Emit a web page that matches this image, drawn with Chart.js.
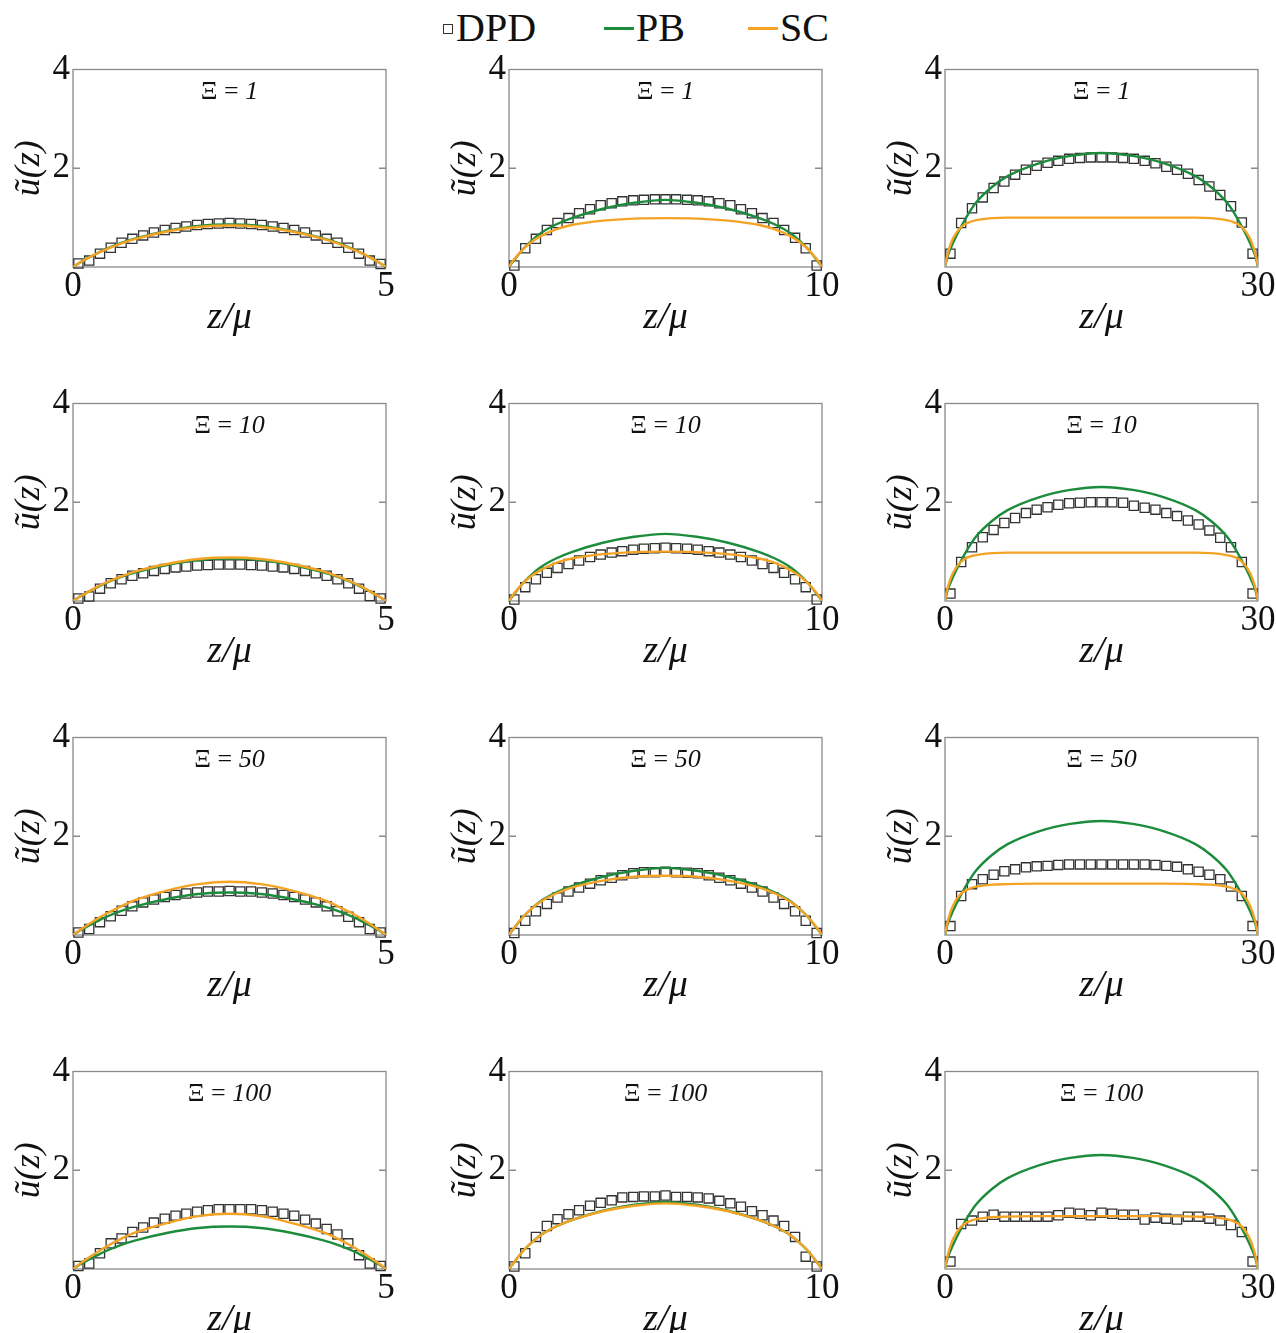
<!DOCTYPE html>
<html>
<head>
<meta charset="utf-8">
<script src="https://cdn.jsdelivr.net/npm/chart.js@4.4.1/dist/chart.umd.min.js"></script>
<style>
  body { margin: 0; background: #fff; width: 1276px; height: 1333px; overflow: hidden; position: relative; font-family: "Liberation Serif", serif; }
  canvas { position: absolute; }
  .lg { position: absolute; top: 8px; font-size: 40px; line-height: 40px; color: #111; }
  .sq { position: absolute; top: 24px; left: 443px; width: 8px; height: 8px; border: 1px solid #333; }
  .ln { position: absolute; top: 27px; width: 30px; height: 2.5px; }
</style>
</head>
<body>
<div class="sq"></div><div class="lg" style="left:456px">DPD</div>
<div class="ln" style="left:604px;background:#1c8c3c"></div><div class="lg" style="left:636px">PB</div>
<div class="ln" style="left:748px;background:#f4a325"></div><div class="lg" style="left:780px">SC</div>
<script>
// panel parameters
const colLengths = [5, 10, 30];
const xiLabels = ["1", "10", "50", "100"];

// DPD bin centres (z/mu)
const zDpd5 = [0.086, 0.259, 0.431, 0.603, 0.776, 0.948, 1.121, 1.293, 1.466, 1.638, 1.810, 1.983, 2.155, 2.328, 2.5, 2.672, 2.845, 3.017, 3.190, 3.362, 3.534, 3.707, 3.879, 4.052, 4.224, 4.397, 4.569, 4.741, 4.914];
const zDpd10 = [0.17, 0.52, 0.86, 1.21, 1.55, 1.90, 2.24, 2.59, 2.93, 3.28, 3.62, 3.97, 4.31, 4.66, 5.0, 5.34, 5.69, 6.03, 6.38, 6.72, 7.07, 7.41, 7.76, 8.10, 8.45, 8.79, 9.14, 9.48, 9.83];
const zDpd30 = [0.52, 1.55, 2.59, 3.62, 4.66, 5.69, 6.72, 7.76, 8.79, 9.83, 10.86, 11.90, 12.93, 13.97, 15.0, 16.03, 17.07, 18.10, 19.14, 20.17, 21.21, 22.24, 23.28, 24.31, 25.34, 26.38, 27.41, 28.45, 29.48];

// theory curve sample points
const zCurve5 = [0, 0.025, 0.05, 0.125, 0.25, 0.375, 0.5, 0.75, 1, 1.5, 2, 2.5, 3, 3.5, 4, 4.25, 4.5, 4.625, 4.75, 4.875, 4.95, 4.975, 5];
const zCurve10 = [0, 0.05, 0.1, 0.25, 0.5, 0.75, 1, 1.5, 2, 3, 4, 5, 6, 7, 8, 8.5, 9, 9.25, 9.5, 9.75, 9.9, 9.95, 10];
const zCurve30 = [0, 0.15, 0.3, 0.75, 1.5, 2.25, 3, 4.5, 6, 9, 12, 15, 18, 21, 24, 25.5, 27, 27.75, 28.5, 29.25, 29.7, 29.85, 30];

// PB (same for every Xi)
const pb5 = [0, .02, .04, .10, .19, .27, .35, .48, .58, .73, .83, .86, .83, .73, .58, .48, .35, .27, .19, .10, .04, .02, 0];
const pb10 = [0, .043, .085, .21, .40, .55, .68, .86, .99, 1.18, 1.30, 1.36, 1.30, 1.18, .99, .86, .68, .55, .40, .21, .085, .043, 0];
const pb30 = [0, .14, .25, .48, .80, 1.08, 1.31, 1.62, 1.84, 2.10, 2.25, 2.31, 2.25, 2.10, 1.84, 1.62, 1.31, 1.08, .80, .48, .25, .14, 0];

// SC
const sc5_1 = [0, .02, .04, .10, .19, .27, .34, .47, .57, .72, .81, .84, .81, .72, .57, .47, .34, .27, .19, .10, .04, .02, 0];
const sc5_10 = [0, .02, .04, .10, .19, .28, .36, .49, .60, .75, .85, .88, .85, .75, .60, .49, .36, .28, .19, .10, .04, .02, 0];
const sc5_50 = [0, .02, .05, .11, .22, .32, .41, .57, .71, .90, 1.03, 1.08, 1.03, .90, .71, .57, .41, .32, .22, .11, .05, .02, 0];
const sc5_100 = [0, .02, .05, .12, .23, .33, .43, .60, .74, .93, 1.07, 1.12, 1.07, .93, .74, .60, .43, .33, .23, .12, .05, .02, 0];
const sc10_1 = [0, .05, .10, .22, .39, .52, .62, .76, .85, .94, .98, .99, .98, .94, .85, .76, .62, .52, .39, .22, .10, .05, 0];
const sc10_10 = [0, .05, .10, .22, .39, .52, .62, .77, .86, .95, .99, 1.00, .99, .95, .86, .77, .62, .52, .39, .22, .10, .05, 0];
const sc10_50 = [0, .05, .09, .22, .40, .55, .67, .84, .96, 1.10, 1.18, 1.20, 1.18, 1.10, .96, .84, .67, .55, .40, .22, .09, .05, 0];
const sc10_100 = [0, .043, .085, .21, .40, .55, .68, .86, .99, 1.17, 1.28, 1.33, 1.28, 1.17, .99, .86, .68, .55, .40, .21, .085, .043, 0];
const sc30_1 = [0, .17, .30, .57, .80, .90, .95, .99, 1.00, 1.00, 1.00, 1.00, 1.00, 1.00, 1.00, .99, .95, .90, .80, .57, .30, .17, 0];
const sc30_10 = [0, .17, .30, .56, .79, .89, .93, .97, .98, .98, .98, .98, .98, .98, .98, .97, .93, .89, .79, .56, .30, .17, 0];
const sc30_50 = [0, .17, .31, .59, .83, .93, .98, 1.02, 1.03, 1.04, 1.04, 1.04, 1.04, 1.04, 1.03, 1.02, .98, .93, .83, .59, .31, .17, 0];
const sc30_100 = [0, .17, .31, .60, .85, .96, 1.01, 1.05, 1.06, 1.07, 1.07, 1.07, 1.07, 1.07, 1.06, 1.05, 1.01, .96, .85, .60, .31, .17, 0];

// DPD
const dpd5_1 = [0.07, 0.13, 0.27, 0.39, 0.49, 0.57, 0.64, 0.70, 0.75, 0.79, 0.82, 0.85, 0.87, 0.88, 0.89, 0.88, 0.87, 0.85, 0.82, 0.79, 0.75, 0.70, 0.64, 0.57, 0.49, 0.39, 0.27, 0.13, 0.06];
const dpd5_10 = [0.05, 0.09, 0.25, 0.36, 0.44, 0.51, 0.56, 0.61, 0.65, 0.68, 0.70, 0.72, 0.73, 0.74, 0.74, 0.74, 0.73, 0.72, 0.70, 0.68, 0.65, 0.61, 0.56, 0.51, 0.44, 0.36, 0.25, 0.10, 0.05];
const dpd5_50 = [0.05, 0.12, 0.26, 0.38, 0.49, 0.58, 0.66, 0.72, 0.77, 0.81, 0.84, 0.86, 0.88, 0.88, 0.89, 0.88, 0.88, 0.86, 0.84, 0.81, 0.77, 0.72, 0.66, 0.58, 0.48, 0.37, 0.26, 0.12, 0.05];
const dpd5_100 = [0.06, 0.11, 0.32, 0.52, 0.62, 0.75, 0.84, 0.94, 1.02, 1.08, 1.12, 1.16, 1.19, 1.21, 1.21, 1.21, 1.21, 1.19, 1.16, 1.12, 1.08, 1.00, 0.92, 0.81, 0.70, 0.52, 0.28, 0.11, 0.06];
const dpd10_1 = [0.03, 0.38, 0.57, 0.75, 0.89, 0.99, 1.09, 1.17, 1.25, 1.29, 1.33, 1.35, 1.36, 1.37, 1.37, 1.37, 1.36, 1.35, 1.33, 1.29, 1.25, 1.17, 1.09, 0.99, 0.89, 0.75, 0.59, 0.38, 0.03];
const dpd10_10 = [0.03, 0.28, 0.44, 0.57, 0.67, 0.75, 0.82, 0.89, 0.94, 0.98, 1.01, 1.04, 1.06, 1.07, 1.08, 1.07, 1.06, 1.04, 1.01, 0.98, 0.94, 0.89, 0.82, 0.75, 0.67, 0.57, 0.44, 0.28, 0.03];
const dpd10_50 = [0.04, 0.29, 0.48, 0.63, 0.76, 0.88, 0.96, 1.04, 1.11, 1.16, 1.21, 1.25, 1.27, 1.27, 1.28, 1.27, 1.26, 1.25, 1.21, 1.16, 1.11, 1.04, 0.96, 0.88, 0.76, 0.63, 0.48, 0.29, 0.04];
const dpd10_100 = [0.05, 0.32, 0.65, 0.87, 1.01, 1.11, 1.19, 1.28, 1.34, 1.39, 1.45, 1.46, 1.47, 1.47, 1.49, 1.46, 1.46, 1.45, 1.43, 1.38, 1.33, 1.26, 1.17, 1.09, 0.98, 0.87, 0.65, 0.25, 0.05];
const dpd30_1 = [0.27, 0.89, 1.19, 1.41, 1.60, 1.73, 1.87, 1.97, 2.05, 2.11, 2.15, 2.19, 2.21, 2.22, 2.22, 2.22, 2.21, 2.19, 2.15, 2.10, 2.03, 1.97, 1.89, 1.76, 1.63, 1.46, 1.23, 0.90, 0.27];
const dpd30_10 = [0.15, 0.79, 1.09, 1.29, 1.44, 1.58, 1.68, 1.78, 1.85, 1.90, 1.95, 1.98, 1.99, 2.00, 2.00, 2.00, 1.99, 1.93, 1.89, 1.85, 1.78, 1.72, 1.63, 1.55, 1.43, 1.28, 1.09, 0.79, 0.15];
const dpd30_50 = [0.18, 0.79, 1.03, 1.13, 1.22, 1.29, 1.33, 1.37, 1.39, 1.40, 1.42, 1.43, 1.43, 1.43, 1.43, 1.43, 1.43, 1.43, 1.43, 1.42, 1.40, 1.38, 1.33, 1.28, 1.22, 1.13, 0.98, 0.79, 0.18];
const dpd30_100 = [0.15, 0.91, 0.98, 1.06, 1.10, 1.06, 1.06, 1.06, 1.06, 1.06, 1.09, 1.14, 1.12, 1.09, 1.14, 1.12, 1.10, 1.10, 1.00, 1.04, 1.02, 1.00, 1.06, 1.06, 1.02, 0.98, 0.89, 0.75, 0.15];

const zDpd = [zDpd5, zDpd10, zDpd30];
const zCurve = [zCurve5, zCurve10, zCurve30];
const pbCurves = [pb5, pb10, pb30];
const dpdRows = [
  [dpd5_1, dpd10_1, dpd30_1],
  [dpd5_10, dpd10_10, dpd30_10],
  [dpd5_50, dpd10_50, dpd30_50],
  [dpd5_100, dpd10_100, dpd30_100]
];
const scRows = [
  [sc5_1, sc10_1, sc30_1],
  [sc5_10, sc10_10, sc30_10],
  [sc5_50, sc10_50, sc30_50],
  [sc5_100, sc10_100, sc30_100]
];

const GREEN = "#1c8c3c";
const ORANGE = "#f4a325";
const SERIF = "'Liberation Serif', 'Times New Roman', serif";

// where each plot box sits on the page
const plotLeft = [73, 509, 945];
const plotTop = [69, 403, 737, 1071];
const plotW = 313, yAxisW = 61, padTop = 20, padRight = 30, xAxisH = 70, plotH = 198;

const pairs = (xs, ys) => xs.map((x, i) => ({ x: x, y: ys[i] }));

// frame, inner ticks at 2 and the Xi label
const panelDeco = {
  id: "panelDeco",
  beforeDatasetsDraw(chart, args, opts) {
    const { ctx, chartArea: a } = chart;
    const y2 = chart.scales.y.getPixelForValue(2);
    ctx.save();
    ctx.strokeStyle = "#8a8a8a";
    ctx.lineWidth = 1.3;
    ctx.strokeRect(a.left, a.top, a.right - a.left, a.bottom - a.top);
    ctx.beginPath();
    ctx.moveTo(a.left, y2); ctx.lineTo(a.left + 7, y2);
    ctx.moveTo(a.right, y2); ctx.lineTo(a.right - 7, y2);
    ctx.stroke();
    // Ξ = n
    const partA = "\u039E = ";
    ctx.fillStyle = "#111";
    ctx.textBaseline = "middle";
    ctx.font = "26px " + SERIF;
    const wA = ctx.measureText(partA).width;
    ctx.font = "italic 26px " + SERIF;
    const wB = ctx.measureText(opts.xi).width;
    const x0 = (a.left + a.right) / 2 - (wA + wB) / 2;
    const ty = a.top + 23;
    ctx.font = "26px " + SERIF;
    ctx.fillText(partA, x0, ty);
    ctx.font = "italic 26px " + SERIF;
    ctx.fillText(opts.xi, x0 + wA, ty);
    ctx.restore();
  }
};

for (let r = 0; r < 4; r++) {
  for (let c = 0; c < 3; c++) {
    const L = colLengths[c];
    const cv = document.createElement("canvas");
    cv.width = yAxisW + plotW + padRight;
    cv.height = padTop + plotH + xAxisH;
    cv.style.left = (plotLeft[c] - yAxisW) + "px";
    cv.style.top = (plotTop[r] - padTop) + "px";
    document.body.appendChild(cv);

    new Chart(cv.getContext("2d"), {
      type: "scatter",
      data: {
        datasets: [
          {
            label: "DPD",
            data: pairs(zDpd[c], dpdRows[r][c]),
            pointStyle: "rect",
            pointRadius: 6.5,
            pointBorderWidth: 1.3,
            pointBorderColor: "#333",
            pointBackgroundColor: "rgba(0,0,0,0)",
            showLine: false,
            clip: false,
            order: 3
          },
          {
            label: "PB",
            data: pairs(zCurve[c], pbCurves[c]),
            showLine: true,
            borderColor: GREEN,
            borderWidth: 2.4,
            pointRadius: 0,
            cubicInterpolationMode: "monotone",
            order: 2
          },
          {
            label: "SC",
            data: pairs(zCurve[c], scRows[r][c]),
            showLine: true,
            borderColor: ORANGE,
            borderWidth: 2.4,
            pointRadius: 0,
            cubicInterpolationMode: "monotone",
            order: 1
          }
        ]
      },
      options: {
        responsive: false,
        animation: false,
        devicePixelRatio: 1,
        layout: { padding: { left: 0, top: padTop, right: padRight, bottom: 0 } },
        plugins: {
          legend: { display: false },
          tooltip: { enabled: false },
          panelDeco: { xi: xiLabels[r] }
        },
        scales: {
          x: {
            type: "linear",
            min: 0,
            max: L,
            grid: { display: false, drawTicks: false },
            border: { display: false },
            ticks: {
              stepSize: L,
              autoSkip: false,
              maxRotation: 0,
              padding: 2,
              color: "#111",
              font: { family: SERIF, size: 35, lineHeight: 1 }
            },
            title: {
              display: true,
              text: "z/\u03BC",
              color: "#111",
              padding: 0,
              font: { family: SERIF, size: 38, style: "italic", lineHeight: 1 }
            },
            afterFit(s) { s.height = xAxisH; }
          },
          y: {
            min: 0,
            max: 4,
            grid: { display: false, drawTicks: false },
            border: { display: false },
            ticks: {
              stepSize: 2,
              padding: 3,
              color: "#111",
              font: { family: SERIF, size: 35, lineHeight: 1 },
              callback: v => (v === 0 ? "" : v)
            },
            title: {
              display: true,
              text: "\u0169(z)",
              color: "#111",
              padding: 0,
              font: { family: SERIF, size: 36, style: "italic", lineHeight: 1 }
            },
            afterFit(s) { s.width = yAxisW; }
          }
        }
      },
      plugins: [panelDeco]
    });
  }
}
</script>
</body>
</html>
